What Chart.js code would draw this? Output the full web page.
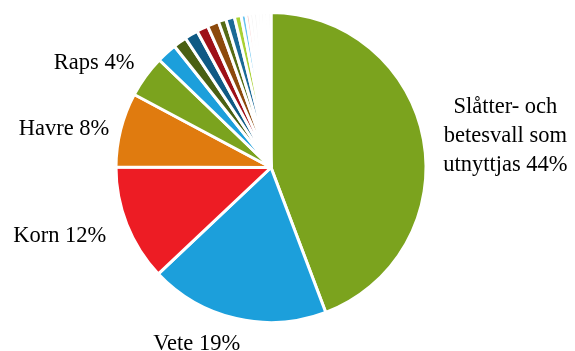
<!DOCTYPE html>
<html>
<head>
<meta charset="utf-8">
<script src="https://cdn.jsdelivr.net/npm/chart.js@4.4.1/dist/chart.umd.min.js"></script>
<style>
  html, body { margin: 0; padding: 0; background: #ffffff; }
  #wrap { width: 575px; height: 351px; }
</style>
</head>
<body>
<div id="wrap"><canvas id="c" width="575" height="351"></canvas></div>
<script>
// ---- Data (share of arable land, %) ----
const categories = [
  "Slåtter- och\nbetesvall som\nutnyttjas",
  "Vete", "Korn", "Havre", "Raps",
  "Övrig gröda 1", "Övrig gröda 2", "Övrig gröda 3", "Övrig gröda 4", "Övrig gröda 5",
  "Övrig gröda 6", "Övrig gröda 7", "Övrig gröda 8", "Övrig gröda 9", "Övrig gröda 10",
  "Övrig gröda 11", "Övrig gröda 12", "Övrig gröda 13", "Övrig gröda 14", "Övrig gröda 15", "Övrig gröda 16"
];
const shares = [
  44.25, 18.7, 12.1, 7.75, 4.4,
  2.1, 1.4, 1.4, 1.2, 1.2,
  0.8, 0.9, 0.7, 0.5, 0.4,
  0.4, 0.4, 0.35, 0.35, 0.35, 0.35
];
const showLabel = [true, true, true, true, true,
  false, false, false, false, false, false, false, false, false, false,
  false, false, false, false, false, false];
const colors = [
  "#7BA31E", "#1C9FDB", "#ED1C24", "#E07B0F", "#7BA31E",
  "#1C9FDB", "#4A6013", "#0F5A84", "#9E1018", "#8C4A0C",
  "#556B15", "#1A6A96", "#A9D134", "#66C2EE", "#F6C6C6",
  "#F3F3F3", "#F3F3F3", "#F3F3F3", "#F3F3F3", "#F3F3F3", "#F3F3F3"
];

// label placement nudges (px) per labelled slice
const labelNudge = [[0, 0], [-35, 6], [-2, 4], [8, 4], [5, -1.5]];

const outsideLabels = {
  id: 'outsideLabels',
  afterDatasetsDraw(chart) {
    const ctx = chart.ctx;
    const meta = chart.getDatasetMeta(0);
    const data = chart.data.datasets[0].data;
    const total = data.reduce((a, b) => a + b, 0);
    ctx.save();
    ctx.font = '22.5px "Liberation Serif", "Times New Roman", serif';
    ctx.fillStyle = '#000';
    ctx.textBaseline = 'middle';
    const lineH = 29;
    meta.data.forEach((arc, i) => {
      if (!showLabel[i]) return;
      const p = arc.getProps(['x', 'y', 'startAngle', 'endAngle', 'outerRadius'], true);
      const mid = (p.startAngle + p.endAngle) / 2;
      const dx = Math.cos(mid), dy = Math.sin(mid);
      const r = p.outerRadius + 20;
      const nudge = labelNudge[i] || [0, 0];
      const ax = p.x + dx * r + nudge[0];
      const ay = p.y + dy * r + nudge[1];
      const pct = Math.round(data[i] / total * 100);
      const lines = (chart.data.labels[i] + ' ' + pct + '%').split('\n');
      const widths = lines.map(l => ctx.measureText(l).width);
      const W = Math.max(...widths);
      let left;
      if (dx > 0.3) left = ax;
      else if (dx < -0.3) left = ax - W;
      else left = ax - W / 2;
      const top = ay - (lines.length - 1) * lineH / 2;
      ctx.textAlign = 'center';
      lines.forEach((l, k) => {
        ctx.fillText(l, left + W / 2, top + k * lineH);
      });
    });
    ctx.restore();
  }
};

new Chart(document.getElementById('c'), {
  type: 'pie',
  data: {
    labels: categories,
    datasets: [{
      data: shares,
      backgroundColor: colors,
      borderColor: '#ffffff',
      borderWidth: 3
    }]
  },
  options: {
    responsive: false,
    animation: false,
    layout: { padding: { left: 8, right: 41, top: 11, bottom: 27 } },
    plugins: {
      legend: { display: false },
      tooltip: { enabled: false }
    }
  },
  plugins: [outsideLabels]
});
</script>
</body>
</html>
